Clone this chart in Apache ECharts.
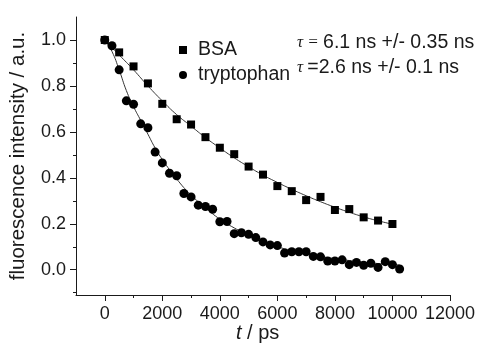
<!DOCTYPE html>
<html>
<head>
<meta charset="utf-8">
<script src="https://cdn.jsdelivr.net/npm/echarts@6/dist/echarts.min.js"></script>
<style>html,body{margin:0;padding:0;background:#fff;}#c{width:478px;height:347px;}</style>
</head>
<body>
<div id="c"></div>
<script>
// ---- data ----
var bsaT = [0,500,1000,1500,2000,2500,3000,3500,4000,4500,5000,5500,6000,6500,7000,7500,8000,8500,9000,9500,10000];
var bsaI = [1.0,0.946,0.885,0.811,0.722,0.655,0.632,0.577,0.531,0.503,0.449,0.414,0.364,0.342,0.303,0.317,0.260,0.264,0.228,0.214,0.199];
var trpT = [0,250,500,750,1000,1250,1500,1750,2000,2250,2500,2750,3000,3250,3500,3750,4000,4250,4500,4750,5000,5250,5500,5750,6000,6250,6500,6750,7000,7250,7500,7750,8000,8250,8500,8750,9000,9250,9500,9750,10000,10250];
var trpI = [1.0,0.975,0.87,0.735,0.72,0.635,0.618,0.512,0.465,0.42,0.409,0.332,0.317,0.281,0.275,0.263,0.209,0.21,0.157,0.161,0.154,0.14,0.121,0.108,0.105,0.073,0.078,0.078,0.078,0.058,0.056,0.038,0.038,0.043,0.022,0.032,0.019,0.028,0.010,0.035,0.022,0.003];
var bsaFitT = [0,500,1000,1500,2000,2500,3000,3500,4000,4500,5000,5500,6000,6500,7000,7500,8000,8500,9000,9500,10000];
var bsaFitI = [1.0,0.935,0.87,0.80,0.735,0.675,0.625,0.575,0.53,0.487,0.448,0.412,0.38,0.35,0.322,0.296,0.272,0.25,0.23,0.213,0.198];
var trpFitT = [0,250,500,750,1000,1250,1500,1750,2000,2500,3000,3500,4000,4500,5000,5500,6000,6500,7000,7500,8000,8500,9000,9500,10000,10250];
var trpFitI = [1.0,0.95,0.87,0.78,0.71,0.65,0.59,0.53,0.48,0.395,0.325,0.27,0.22,0.182,0.15,0.123,0.10,0.084,0.07,0.058,0.048,0.04,0.033,0.027,0.023,0.021];
var xMajor = [0,2000,4000,6000,8000,10000,12000];
var xMinor = [1000,3000,5000,7000,9000,11000];
var yMajor = [0,0.2,0.4,0.6,0.8,1.0];
var yMinor = [-0.1,0.1,0.3,0.5,0.7,0.9];
var seriesNames = ['BSA','tryptophan'];
var tauTexts = [['τ = ','6.1 ns +/- 0.35 ns'],['τ ','=2.6 ns +/- 0.1 ns']];

function zip(a,b){return a.map(function(v,i){return [v,b[i]];});}
var FONT = 'Liberation Sans';
var INK = '#1a1a1a';
var chart = echarts.init(document.getElementById('c'));
var grid = {left:73, right:26, top:17, bottom:52};
var xBase = {type:'value', min:-1000, max:12000, splitLine:{show:false}, gridIndex:0, position:'bottom'};
var yBase = {type:'value', min:-0.11, max:1.1, splitLine:{show:false}, gridIndex:0, position:'left'};
var tauRich = {t:{fontFamily:'Liberation Serif', fontStyle:'italic', fontSize:17, fill:INK, lineHeight:22},
               n:{fontFamily:FONT, fontSize:19.5, fill:INK, lineHeight:22}};
chart.setOption({
  animation:false,
  grid:grid,
  xAxis:[
    Object.assign({}, xBase, {
      axisLine:{show:true, onZero:false, lineStyle:{color:INK, width:1}},
      axisTick:{show:true, customValues:xMajor, length:6, lineStyle:{color:INK}},
      axisLabel:{customValues:xMajor, fontFamily:FONT, fontSize:18, color:INK, margin:10,
        formatter:function(v){return String(v);}}
    }),
    Object.assign({}, xBase, {
      axisLine:{show:false, onZero:false},
      axisTick:{show:true, customValues:xMinor, length:3, lineStyle:{color:INK}},
      axisLabel:{show:false}
    })
  ],
  yAxis:[
    Object.assign({}, yBase, {
      axisLine:{show:true, onZero:false, lineStyle:{color:INK, width:1}},
      axisTick:{show:true, customValues:yMajor, length:6, lineStyle:{color:INK}},
      axisLabel:{customValues:yMajor, fontFamily:FONT, fontSize:18, color:INK, margin:10,
        formatter:function(v){return v.toFixed(1);}},
      name:'fluorescence intensity / a.u.', nameLocation:'middle', nameGap:47,
      nameTextStyle:{fontFamily:FONT, fontSize:20.5, color:INK}
    }),
    Object.assign({}, yBase, {
      axisLine:{show:false, onZero:false},
      axisTick:{show:true, customValues:yMinor, length:3, lineStyle:{color:INK}},
      axisLabel:{show:false}
    })
  ],
  legend:{
    orient:'vertical', left:174, top:35, itemGap:5, itemWidth:8, itemHeight:8,
    data:[{name:seriesNames[0], icon:'rect'},{name:seriesNames[1], icon:'circle'}],
    textStyle:{fontFamily:FONT, fontSize:19.5, color:INK, lineHeight:20, padding:[0,0,0,6]},
    selectedMode:false
  },
  graphic:[
    {type:'text', left:297, top:33, style:{
      text:'{t|'+tauTexts[0][0]+'}{n|'+tauTexts[0][1]+'}', rich:tauRich}},
    {type:'text', left:297, top:58, style:{
      text:'{t|'+tauTexts[1][0]+'}{n|'+tauTexts[1][1]+'}', rich:tauRich}},
    {type:'text', left:236, top:323, style:{
      text:'{i|t}{r| / ps}',
      rich:{i:{fontFamily:FONT, fontStyle:'italic', fontSize:20, fill:INK},
            r:{fontFamily:FONT, fontSize:20, fill:INK}}}}
  ],
  series:[
    {name:seriesNames[0], type:'scatter', symbol:'rect', symbolSize:8, itemStyle:{color:'#000', opacity:1},
      data:zip(bsaT,bsaI), z:3},
    {name:seriesNames[1], type:'scatter', symbol:'circle', symbolSize:9, itemStyle:{color:'#000', opacity:1},
      data:zip(trpT,trpI), z:3},
    {type:'line', smooth:true, showSymbol:false, lineStyle:{color:'#333', width:1}, data:zip(bsaFitT,bsaFitI), z:2, silent:true},
    {type:'line', smooth:true, showSymbol:false, lineStyle:{color:'#333', width:1}, data:zip(trpFitT,trpFitI), z:2, silent:true}
  ]
});
</script>
</body>
</html>
